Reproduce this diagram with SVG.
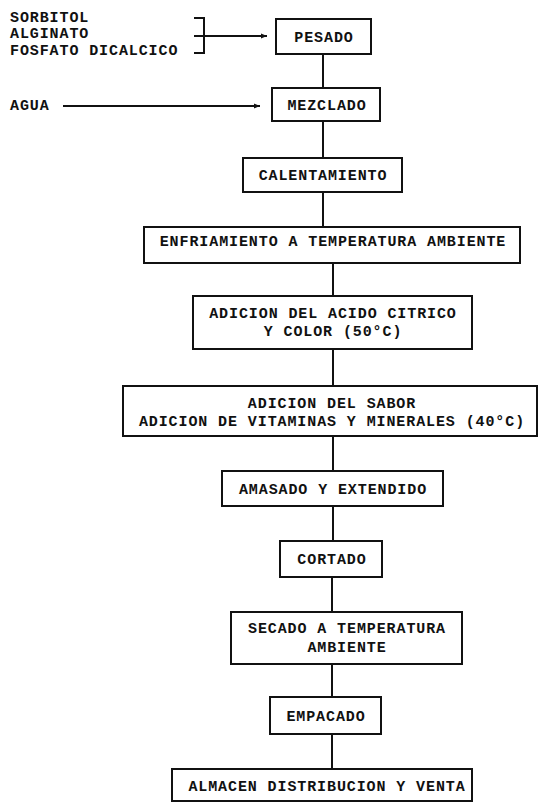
<svg xmlns="http://www.w3.org/2000/svg" width="539" height="802" viewBox="0 0 539 802">
<defs>
<style>
text{font-family:"Liberation Mono","DejaVu Sans Mono",monospace;font-size:15px;font-weight:bold;letter-spacing:0.9px;fill:#111}
.c{text-anchor:middle}
.box{fill:none;stroke:#111;stroke-width:2}
.ln{fill:none;stroke:#111;stroke-width:2}
</style>
<marker id="ah" viewBox="0 0 10 10" refX="10" refY="5" markerWidth="8" markerHeight="6" markerUnits="userSpaceOnUse" orient="auto">
<path d="M0,1 L10,5 L0,9 Z" fill="#111"/>
</marker>
</defs>
<rect width="539" height="802" fill="#fff"/>
<g id="inputs">
<text x="10" y="22">SORBITOL</text>
<text x="10" y="38">ALGINATO</text>
<text x="10" y="55">FOSFATO DICALCICO</text>
<text x="10" y="110">AGUA</text>
</g>
<g id="connectors">
<path class="ln" d="M194,18 H204 V53 H194"/>
<path class="ln" d="M194,36 H267" marker-end="url(#ah)"/>
<path class="ln" d="M63,106 H260" marker-end="url(#ah)"/>
<path class="ln" d="M323,54 V88"/>
<path class="ln" d="M323,121 V158"/>
<path class="ln" d="M323,192 V227"/>
<path class="ln" d="M333,263 V296"/>
<path class="ln" d="M333,349 V386"/>
<path class="ln" d="M333,436 V471"/>
<path class="ln" d="M333,506 V541"/>
<path class="ln" d="M332,577 V612"/>
<path class="ln" d="M332,664 V697"/>
<path class="ln" d="M332,734 V769"/>
</g>
<g id="pesado"><rect class="box" x="276" y="19" width="95" height="35"/><text class="c" x="324" y="41.5">PESADO</text></g>
<g id="mezclado"><rect class="box" x="272" y="88" width="108" height="33"/><text class="c" x="327" y="110">MEZCLADO</text></g>
<g id="calentamiento"><rect class="box" x="243" y="158" width="159" height="34"/><text class="c" x="323" y="180">CALENTAMIENTO</text></g>
<g id="enfriamiento"><rect class="box" x="144" y="227" width="376" height="36"/><text class="c" x="333" y="246">ENFRIAMIENTO A TEMPERATURA AMBIENTE</text></g>
<g id="acido"><rect class="box" x="193" y="296" width="279" height="53"/><text class="c" x="333" y="318">ADICION DEL ACIDO CITRICO</text><text class="c" x="333" y="336">Y COLOR (50°C)</text></g>
<g id="sabor"><rect class="box" x="123" y="386" width="414" height="50"/><text class="c" x="332" y="408">ADICION DEL SABOR</text><text class="c" x="332" y="426">ADICION DE VITAMINAS Y MINERALES (40°C)</text></g>
<g id="amasado"><rect class="box" x="222" y="471" width="221" height="35"/><text class="c" x="333" y="493.5">AMASADO Y EXTENDIDO</text></g>
<g id="cortado"><rect class="box" x="280" y="541" width="102" height="36"/><text class="c" x="332" y="564">CORTADO</text></g>
<g id="secado"><rect class="box" x="231" y="612" width="231" height="52"/><text class="c" x="347" y="633">SECADO A TEMPERATURA</text><text class="c" x="347" y="652">AMBIENTE</text></g>
<g id="empacado"><rect class="box" x="270" y="697" width="111" height="37"/><text class="c" x="326" y="721">EMPACADO</text></g>
<g id="almacen"><rect class="box" x="172" y="769" width="300" height="32"/><text class="c" x="327" y="791">ALMACEN DISTRIBUCION Y VENTA</text></g>
</svg>
